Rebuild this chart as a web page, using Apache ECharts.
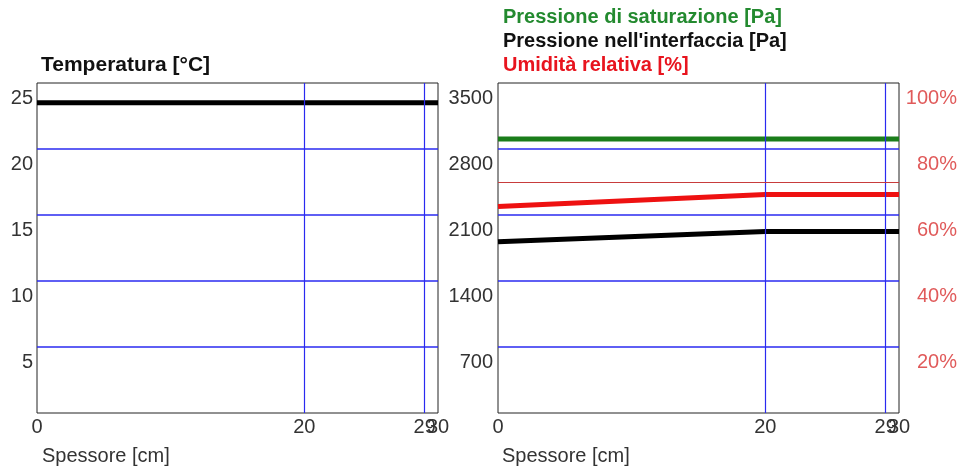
<!DOCTYPE html>
<html><head><meta charset="utf-8">
<script src="https://cdn.jsdelivr.net/npm/echarts@6/dist/echarts.min.js"></script>
<style>html,body{margin:0;padding:0;background:#fff}#c{width:960px;height:472px}</style>
</head><body><div id="c"></div>
<script>
// ---- data ----
const thickness = [0, 20, 29, 30];              // cm
const xTickValues = [0, 20, 29, 30];            // layer boundaries shown on x axis
const xGridValues = [20, 29];                   // inner layer boundaries
const temperature = [23.5, 23.5, 23.5, 23.5];   // °C
const saturationPressure = [2906, 2906, 2906, 2906]; // Pa
const interfacePressure = [1815, 1925, 1925, 1925];  // Pa
const relativeHumidity = [62.6, 66.2, 66.2, 66.2];   // %
const rhLimit = 70;                              // %
const nameTemp = 'Temperatura [°C]';
const nameSat = 'Pressione di saturazione [Pa]';
const nameInt = "Pressione nell'interfaccia [Pa]";
const nameRH = 'Umidità relativa [%]';
const xAxisName = 'Spessore [cm]';

const FONT = '"Liberation Sans", Arial, sans-serif';
const BLUE = '#2a2af0';
const pairs = arr => thickness.map((x, i) => [x, arr[i]]);
const vGrid = () => ({
  silent: true, symbol: ['none', 'none'], animation: false,
  label: { show: false },
  lineStyle: { color: BLUE, width: 1.2, type: 'solid', opacity: 1 },
  emphasis: { disabled: true },
  data: xGridValues.map(v => ({ xAxis: v }))
});
// the last boundary label overlaps its neighbour (as in the original), so it
// lives on a second, otherwise invisible bottom axis of the same grid
const xAxisBase = (gi, values) => ({
  type: 'value', gridIndex: gi, position: 'bottom', min: 0, max: 30,
  axisLine: { show: false }, axisTick: { show: false },
  splitLine: { show: false },
  axisLabel: {
    customValues: values, showMinLabel: true, showMaxLabel: true,
    color: '#333', fontSize: 20, fontFamily: FONT, margin: 4
  }
});
const mainTicks = xTickValues.slice(0, -1);
const lastTick = xTickValues.slice(-1);
const yLabel = (extra) => Object.assign({
  showMinLabel: false, showMaxLabel: true,
  verticalAlign: 'top', padding: [5, 0, 0, 0],
  color: '#333', fontSize: 20, fontFamily: FONT,
  formatter: v => String(v)
}, extra);
const hSplit = { showMinLine: false, showMaxLine: false, lineStyle: { color: BLUE, width: 1.6 } };

const chart = echarts.init(document.getElementById('c'), null, { renderer: 'canvas' });
chart.setOption({
  animation: false,
  backgroundColor: '#fff',
  grid: [
    { left: 37, right: 522, top: 83, bottom: 59, show: true, borderColor: '#222', borderWidth: 1, backgroundColor: '#fff' },
    { left: 498, right: 61, top: 83, bottom: 59, show: true, borderColor: '#222', borderWidth: 1, backgroundColor: '#fff' }
  ],
  legend: {
    orient: 'vertical', left: 493, top: 1, itemGap: 2,
    icon: 'none', itemWidth: 0, itemHeight: 10, selectedMode: false,
    textStyle: { fontSize: 20, fontWeight: 'bold', fontFamily: FONT, lineHeight: 22 },
    data: [
      { name: nameSat, textStyle: { color: '#238a2f' } },
      { name: nameInt, textStyle: { color: '#111' } },
      { name: nameRH, textStyle: { color: '#e8141e' } }
    ]
  },
  graphic: [
    { type: 'text', x: 41, y: 65, style: { text: nameTemp, font: 'bold 21px ' + FONT, fill: '#111', verticalAlign: 'middle' } },
    { type: 'text', x: 42, y: 456, style: { text: xAxisName, font: '20px ' + FONT, fill: '#333', verticalAlign: 'middle' } },
    { type: 'text', x: 502, y: 456, style: { text: xAxisName, font: '20px ' + FONT, fill: '#333', verticalAlign: 'middle' } }
  ],
  xAxis: [xAxisBase(0, mainTicks), xAxisBase(1, mainTicks), xAxisBase(0, lastTick), xAxisBase(1, lastTick)],
  yAxis: [
    { type: 'value', gridIndex: 0, min: 0, max: 25, interval: 5,
      axisLine: { show: false }, axisTick: { show: false },
      splitLine: hSplit,
      axisLabel: yLabel({ margin: 4 }) },
    { type: 'value', gridIndex: 1, min: 0, max: 3500, interval: 700,
      axisLine: { show: false }, axisTick: { show: false },
      splitLine: hSplit,
      axisLabel: yLabel({ margin: 5 }) },
    { type: 'value', gridIndex: 1, position: 'right', min: 0, max: 100, interval: 20,
      axisLine: { show: false }, axisTick: { show: false },
      splitLine: { show: false },
      axisLabel: yLabel({ margin: 58, align: 'right', color: '#e05a5a', formatter: '{value}%' }) }
  ],
  series: [
    { name: nameTemp, type: 'line', xAxisIndex: 0, yAxisIndex: 0, data: pairs(temperature),
      showSymbol: false, lineStyle: { color: '#000', width: 5 }, itemStyle: { color: '#000' }, markLine: vGrid() },
    { name: nameSat, type: 'line', xAxisIndex: 1, yAxisIndex: 1, data: pairs(saturationPressure),
      showSymbol: false, lineStyle: { color: '#1a7d1a', width: 5 }, itemStyle: { color: '#1a7d1a' }, markLine: vGrid() },
    { name: nameRH, type: 'line', xAxisIndex: 1, yAxisIndex: 2, data: pairs(relativeHumidity),
      showSymbol: false, lineStyle: { color: '#ee1111', width: 5 }, itemStyle: { color: '#ee1111' },
      markLine: { silent: true, symbol: ['none', 'none'], animation: false, label: { show: false },
        lineStyle: { color: '#c83c3c', width: 1, type: 'solid' }, data: [{ yAxis: rhLimit }] } },
    { name: nameInt, type: 'line', xAxisIndex: 1, yAxisIndex: 1, data: pairs(interfacePressure),
      showSymbol: false, lineStyle: { color: '#000', width: 5 }, itemStyle: { color: '#000' } }
  ]
});
</script></body></html>
